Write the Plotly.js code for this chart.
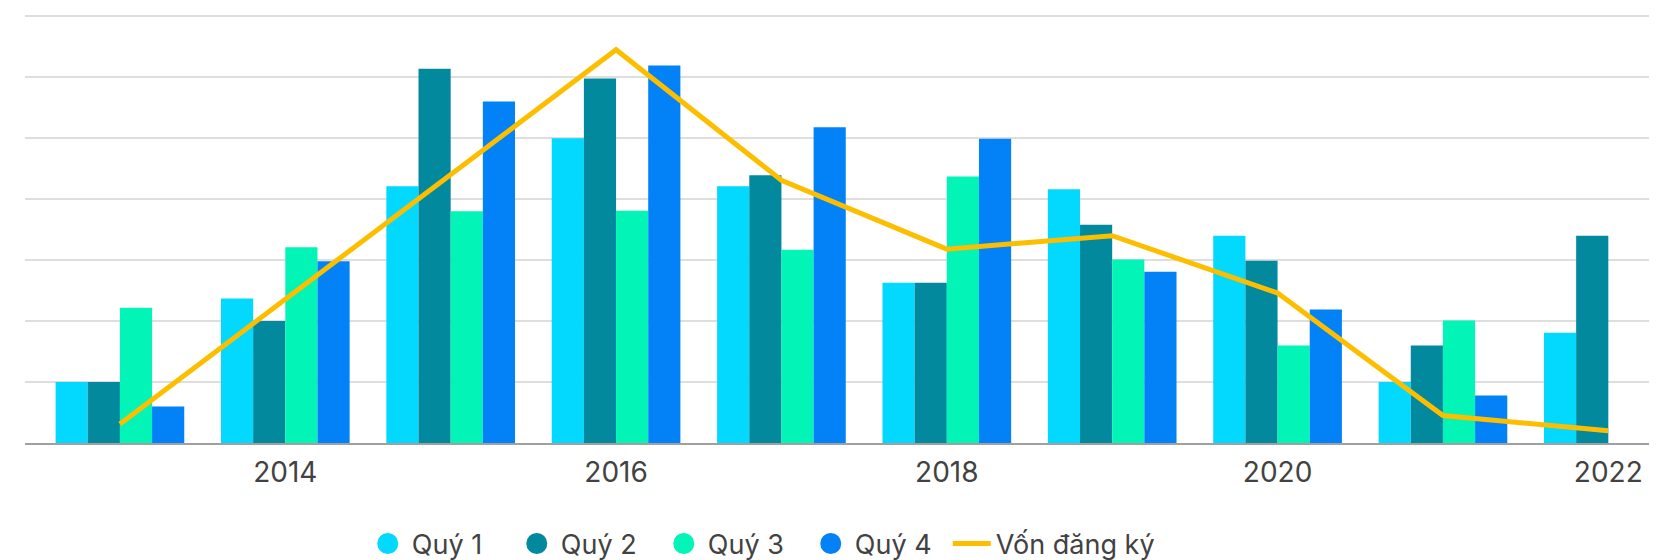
<!DOCTYPE html>
<html>
<head>
<meta charset="utf-8">
<script src="https://cdn.plot.ly/plotly-3.0.1.min.js"></script>
<style>html,body{margin:0;padding:0;background:#fff;}#chart{width:1671px;height:560px;}</style>
</head>
<body>
<div id="chart"></div>
<script>
const years = [2013, 2014, 2015, 2016, 2017, 2018, 2019, 2020, 2021, 2022];
const tickYears = [2014, 2016, 2018, 2020, 2022];
const seriesNames = ["Quý 1", "Quý 2", "Quý 3", "Quý 4"];
const quy1 = [1.00, 2.37, 4.21, 5.00, 4.21, 2.63, 4.16, 3.40, 1.00, 1.81];
const quy2 = [1.00, 2.00, 6.14, 5.98, 4.39, 2.63, 3.58, 2.99, 1.60, 3.40];
const quy3 = [2.22, 3.21, 3.80, 3.81, 3.17, 4.37, 3.01, 1.60, 2.01, null];
const quy4 = [0.60, 2.98, 5.60, 6.19, 5.18, 4.99, 2.81, 2.19, 0.78, null];
const vonName = "Vốn đăng ký";
const vonDangKy = [0.31, 2.36, 4.40, 6.45, 4.31, 3.18, 3.40, 2.46, 0.45, 0.20];

const colors = ["#03D9FE", "#02899E", "#02F4B6", "#0282F6"];
const lineColor = "#FDBE00";
const legendWidths = [96, 94, 94, 88];
const font = "Inter, 'Open Sans', sans-serif";

const quarters = [quy1, quy2, quy3, quy4];
const traces = [];
quarters.forEach((vals, i) => {
  traces.push({
    type: "bar", x: years, y: vals, name: seriesNames[i],
    marker: {color: colors[i], line: {width: 0}},
    showlegend: false, hoverinfo: "x+y+name"
  });
});
quarters.forEach((vals, i) => {
  traces.push({
    type: "scatter", mode: "markers", x: [null], y: [null], name: seriesNames[i],
    marker: {color: colors[i], size: 16, line: {width: 5, color: colors[i]}},
    legendwidth: legendWidths[i], showlegend: true
  });
});
traces.push({
  type: "scatter", mode: "lines", x: years, y: vonDangKy, name: vonName,
  line: {color: lineColor, width: 5}, showlegend: true, cliponaxis: false
});

const layout = {
  width: 1671, height: 560,
  margin: {l: 25, r: 22, t: 15, b: 117, autoexpand: false},
  paper_bgcolor: "#ffffff", plot_bgcolor: "#ffffff",
  barmode: "group", bargap: 0.222, bargroupgap: 0,
  font: {family: font, color: "#404040", size: 27},
  xaxis: {
    range: [2012.426, 2022.246],
    tickmode: "array", tickvals: tickYears, ticktext: tickYears.map(String),
    showgrid: false, zeroline: false,
    showline: true, linecolor: "#a0a0a0", linewidth: 2,
    ticks: "outside", ticklen: 3, tickcolor: "rgba(0,0,0,0)",
    tickfont: {family: font, size: 28, color: "#424242"}
  },
  yaxis: {
    range: [0, 7.02], dtick: 1, tick0: 0,
    showticklabels: false, showgrid: true, gridcolor: "#dedede", gridwidth: 1.5,
    zeroline: false, showline: false, ticks: ""
  },
  legend: {
    orientation: "h", xref: "paper", x: 0.2086, xanchor: "left",
    yref: "container", y: 0.0286, yanchor: "middle",
    itemwidth: 38, font: {family: font, size: 27, color: "#424242"},
    bgcolor: "rgba(0,0,0,0)", traceorder: "normal"
  },
  showlegend: true
};

Plotly.newPlot("chart", traces, layout, {displayModeBar: false, staticPlot: true});
</script>
</body>
</html>
